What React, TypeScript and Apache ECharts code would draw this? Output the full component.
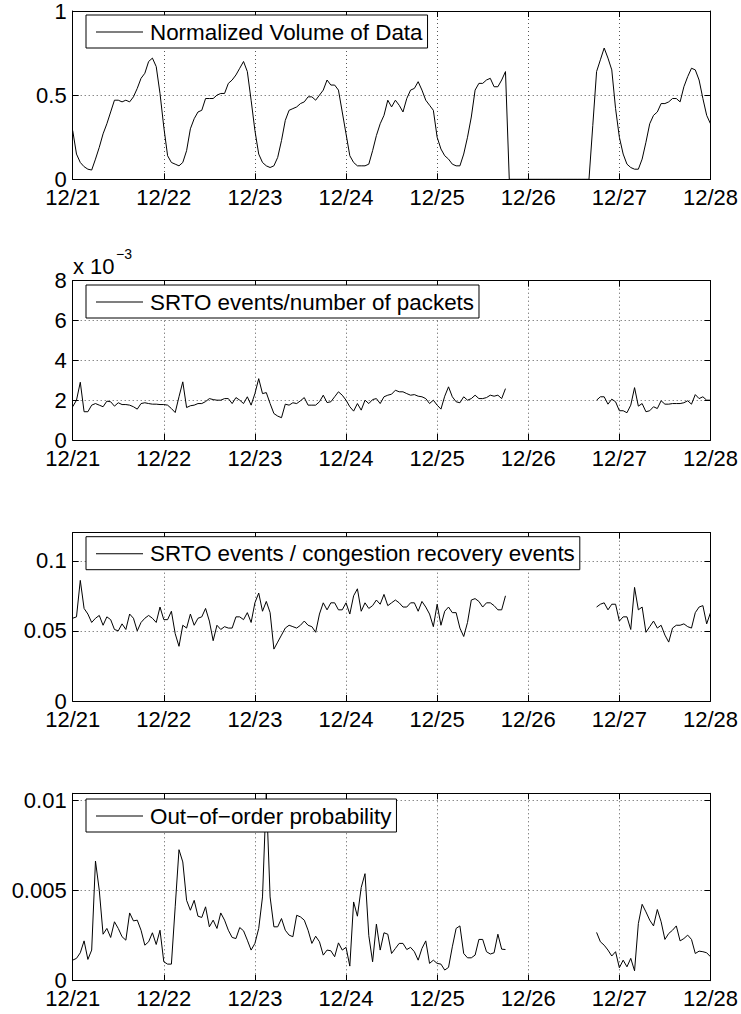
import React, { useEffect, useRef } from 'react';
import * as echarts from 'echarts';

// Hourly samples from 12/21 00:00 (index 0) to 12/28 00:00 (index 168).
const dayLabels = ['12/21', '12/22', '12/23', '12/24', '12/25', '12/26', '12/27', '12/28'];
const HOURS_PER_DAY = 24;
const TOTAL_HOURS = 168;

// Normalized volume of data (0 while the capture was idle).
const volume = [
  0.29, 0.15, 0.10, 0.075, 0.06, 0.055, 0.12, 0.19, 0.27, 0.33,
  0.40, 0.47, 0.47, 0.46, 0.47, 0.46, 0.49, 0.54, 0.60, 0.63,
  0.70, 0.72, 0.67, 0.51, 0.31, 0.14, 0.10, 0.09, 0.08, 0.10,
  0.17, 0.30, 0.36, 0.40, 0.41, 0.48, 0.48, 0.48, 0.50, 0.51,
  0.51, 0.57, 0.59, 0.62, 0.66, 0.70, 0.64, 0.47, 0.29, 0.15,
  0.10, 0.08, 0.07, 0.08, 0.13, 0.23, 0.35, 0.41, 0.42, 0.43,
  0.45, 0.46, 0.49, 0.49, 0.47, 0.50, 0.53, 0.59, 0.56, 0.56,
  0.53, 0.40, 0.27, 0.14, 0.10, 0.08, 0.08, 0.08, 0.09, 0.17,
  0.26, 0.33, 0.38, 0.47, 0.43, 0.47, 0.44, 0.40, 0.48, 0.53,
  0.54, 0.58, 0.53, 0.47, 0.44, 0.41, 0.25, 0.18, 0.14, 0.12,
  0.09, 0.08, 0.08, 0.15, 0.25, 0.37, 0.53, 0.57, 0.57, 0.59,
  0.60, 0.55, 0.55, 0.59, 0.64, 0, 0, 0, 0, 0,
  0, 0, 0, 0, 0, 0, 0, 0, 0, 0,
  0, 0, 0, 0, 0, 0, 0, 0.32, 0.64, 0.71,
  0.78, 0.72, 0.65, 0.42, 0.25, 0.15, 0.09, 0.07, 0.06, 0.06,
  0.12, 0.22, 0.33, 0.38, 0.40, 0.45, 0.45, 0.46, 0.48, 0.48,
  0.46, 0.55, 0.61, 0.66, 0.65, 0.59, 0.48, 0.38, 0.33,
];

// SRTO events per packet, in units of 10^-3.
const srtoPerPacket = [
  1.67, 2.0, 2.9, 1.42, 1.42, 1.75, 1.83, 1.75, 1.67, 1.95,
  1.92, 1.70, 1.87, 1.78, 1.78, 1.75, 1.67, 1.55, 1.83, 1.87,
  1.83, 1.80, 1.80, 1.78, 1.78, 1.75, 1.58, 1.38, 2.17, 2.92,
  1.63, 1.72, 1.75, 1.83, 1.83, 1.93, 2.08, 2.03, 2.0, 2.0,
  2.08, 2.08, 1.83, 2.13, 2.0, 1.83, 2.17, 1.75, 2.33, 3.08,
  2.33, 2.38, 1.83, 1.33, 1.2, 1.12, 1.8, 1.75, 1.87, 1.83,
  1.97, 2.13, 1.75, 1.75, 1.75, 1.92, 2.25, 1.88, 1.92, 2.17,
  2.42, 2.25, 2.0, 1.67, 1.45, 1.83, 1.5, 2.0, 1.83, 2.03,
  2.08, 1.83, 2.17, 2.25, 2.3, 2.5, 2.42, 2.42, 2.33, 2.25,
  2.28, 2.2, 2.17, 2.08, 1.83, 2.0, 1.75, 1.55, 2.2, 2.67,
  2.17, 1.92, 1.87, 2.17, 2.0, 2.08, 2.25, 2.08, 2.08, 2.13,
  2.25, 2.2, 2.25, 2.08, 2.58, null, null, null, null, null,
  null, null, null, null, null, null, null, null, null, null,
  null, null, null, null, null, null, null, null, 2.0, 2.17,
  2.17, 1.8, 2.05, 1.92, 1.47, 1.47, 1.37, 1.75, 2.63, 1.7,
  1.83, 1.42, 1.47, 1.67, 1.58, 1.97, 1.8, 1.8, 1.83, 1.83,
  1.83, 1.87, 1.97, 1.8, 2.28, 2.08, 2.17, 2.0, 2.0,
];

// SRTO events per congestion recovery event.
const srtoPerRecovery = [
  0.059, 0.060, 0.086, 0.066, 0.062, 0.056, 0.059, 0.061, 0.054, 0.060,
  0.058, 0.051, 0.050, 0.055, 0.051, 0.062, 0.059, 0.050, 0.056, 0.059,
  0.061, 0.059, 0.056, 0.067, 0.058, 0.058, 0.064, 0.048, 0.039, 0.054,
  0.052, 0.062, 0.054, 0.059, 0.060, 0.066, 0.057, 0.043, 0.054, 0.051,
  0.053, 0.052, 0.052, 0.060, 0.060, 0.058, 0.063, 0.056, 0.070, 0.077,
  0.064, 0.071, 0.063, 0.037, 0.042, 0.047, 0.052, 0.054, 0.053, 0.052,
  0.054, 0.057, 0.054, 0.053, 0.049, 0.062, 0.070, 0.065, 0.070, 0.070,
  0.065, 0.065, 0.070, 0.062, 0.075, 0.080, 0.064, 0.070, 0.066, 0.068,
  0.072, 0.069, 0.076, 0.068, 0.070, 0.072, 0.070, 0.067, 0.067, 0.070,
  0.070, 0.064, 0.071, 0.067, 0.062, 0.053, 0.069, 0.054, 0.064, 0.067,
  0.063, 0.063, 0.052, 0.046, 0.056, 0.072, 0.073, 0.071, 0.067, 0.070,
  0.070, 0.068, 0.065, 0.065, 0.075, null, null, null, null, null,
  null, null, null, null, null, null, null, null, null, null,
  null, null, null, null, null, null, null, null, 0.067, 0.069,
  0.070, 0.065, 0.069, 0.069, 0.057, 0.060, 0.060, 0.051, 0.081, 0.065,
  0.067, 0.049, 0.053, 0.057, 0.052, 0.054, 0.047, 0.042, 0.052, 0.054,
  0.054, 0.055, 0.053, 0.052, 0.063, 0.067, 0.068, 0.055, 0.063,
];

// Probability of out-of-order delivery.
const outOfOrder = [
  0.00114, 0.00124, 0.00155, 0.00221, 0.00118, 0.00170, 0.00664, 0.00502, 0.00258, 0.00290,
  0.00240, 0.00327, 0.00290, 0.00244, 0.00225, 0.00376, 0.00332, 0.00336, 0.00280, 0.00197,
  0.00216, 0.00266, 0.00201, 0.00280, 0.00105, 0.00092, 0.00092, 0.00410, 0.00727, 0.00659,
  0.00446, 0.00391, 0.00446, 0.00358, 0.00351, 0.00410, 0.00299, 0.00336, 0.00290, 0.00376,
  0.00336, 0.00280, 0.00240, 0.00234, 0.00295, 0.00277, 0.00225, 0.00170, 0.00207, 0.00290,
  0.00465, 0.0104, 0.00465, 0.00299, 0.00299, 0.00345, 0.00280, 0.00253, 0.00244, 0.00363,
  0.00354, 0.00336, 0.00280, 0.00207, 0.00247, 0.00216, 0.00142, 0.00170, 0.00166, 0.00133,
  0.00210, 0.00170, 0.00185, 0.00081, 0.00437, 0.00358, 0.00517, 0.00594, 0.00250, 0.00105,
  0.00314, 0.00170, 0.00266, 0.00258, 0.00151, 0.00179, 0.00207, 0.00207, 0.00173, 0.00185,
  0.00161, 0.00114, 0.00179, 0.00221, 0.00096, 0.00114, 0.00096, 0.00092, 0.00059, 0.00074,
  0.00188, 0.00290, 0.00304, 0.00151, 0.00127, 0.00127, 0.00142, 0.00229, 0.00229, 0.00161,
  0.00148, 0.00155, 0.00258, 0.00175, 0.00173, null, null, null, null, null,
  null, null, null, null, null, null, null, null, null, null,
  null, null, null, null, null, null, null, null, 0.00268, 0.00216,
  0.00197, 0.00170, 0.00137, 0.00161, 0.00072, 0.00114, 0.00077, 0.00124, 0.00055, 0.00317,
  0.00424, 0.00382, 0.00336, 0.00304, 0.00395, 0.00327, 0.00229, 0.00262, 0.00280, 0.00304,
  0.00221, 0.00234, 0.00253, 0.00229, 0.00151, 0.00164, 0.00161, 0.00155, 0.00133,
];

const FONT = '"Liberation Sans", Arial, Helvetica, sans-serif';

const panels = [
  { name: 'Normalized Volume of Data', data: volume, top: 10.7, height: 168.6, max: 1, interval: 0.5, legendTop: 15 },
  { name: 'SRTO events/number of packets', data: srtoPerPacket, top: 280.7, height: 159.3, max: 8, interval: 2, legendTop: 285 },
  { name: 'SRTO events / congestion recovery events', data: srtoPerRecovery, top: 532.7, height: 168.3, max: 0.12, interval: 0.05, legendTop: 536.7 },
  { name: 'Out\u2212of\u2212order probability', data: outOfOrder, top: 793.3, height: 187.4, max: 0.0104, interval: 0.005, legendTop: 799 },
];

const GRID_LEFT = 72.7;
const GRID_WIDTH = 640;

// true when max sits on a tick step, so its label belongs on the axis
const onStep = (max: number, step: number) => Math.abs(max / step - Math.round(max / step)) < 1e-9;

function buildOption() {
  const grid: any[] = [];
  const xAxis: any[] = [];
  const yAxis: any[] = [];
  const series: any[] = [];
  const legend: any[] = [];

  const dotted = { type: [1, 3], color: '#555', width: 1 };
  const tick = { show: true, inside: true, length: 6, lineStyle: { color: '#000', width: 1 } };
  const line = { show: true, onZero: false, lineStyle: { color: '#000', width: 1 } };
  const label = { color: '#000', fontSize: 22, fontFamily: FONT, lineHeight: 16 };

  panels.forEach((p, i) => {
    grid.push({ left: GRID_LEFT, top: p.top, width: GRID_WIDTH, height: p.height, containLabel: false });

    // bottom axis with day labels
    xAxis.push({
      type: 'value', gridIndex: i, position: 'bottom', min: 0, max: TOTAL_HOURS, interval: HOURS_PER_DAY,
      axisLine: line, axisTick: tick,
      axisLabel: { ...label, margin: 10, formatter: (v: number) => dayLabels[Math.round(v / HOURS_PER_DAY)] },
      splitLine: { show: true, lineStyle: dotted },
    });
    // top edge of the box
    xAxis.push({
      type: 'value', gridIndex: i, position: 'top', min: 0, max: TOTAL_HOURS, interval: HOURS_PER_DAY,
      axisLine: line, axisTick: tick, axisLabel: { show: false }, splitLine: { show: false },
    });
    // left axis with values
    yAxis.push({
      type: 'value', gridIndex: i, position: 'left', min: 0, max: p.max, interval: p.interval,
      axisLine: line, axisTick: tick,
      axisLabel: { ...label, margin: 6, showMaxLabel: onStep(p.max, p.interval) },
      splitLine: { show: true, lineStyle: dotted },
    });
    // right edge of the box
    yAxis.push({
      type: 'value', gridIndex: i, position: 'right', min: 0, max: p.max, interval: p.interval,
      axisLine: line, axisTick: tick, axisLabel: { show: false }, splitLine: { show: false },
    });

    series.push({
      type: 'line', name: p.name, xAxisIndex: 2 * i, yAxisIndex: 2 * i,
      data: p.data.map((v, h) => [h, v == null ? '-' : v]),
      symbol: 'none', showSymbol: false, connectNulls: false, clip: true,
      lineStyle: { color: '#000', width: 1 }, itemStyle: { color: '#000' },
    });

    legend.push({
      data: [p.name], left: 86, top: p.legendTop, orient: 'horizontal', selectedMode: false,
      backgroundColor: '#fff', borderColor: '#000', borderWidth: 1, borderRadius: 0,
      padding: [6, 5, 5, 10], icon: 'rect', itemWidth: 47, itemHeight: 1,
      itemStyle: { color: '#000', borderWidth: 0 },
      textStyle: { color: '#000', fontSize: 22.4, fontFamily: FONT, padding: [0, 0, 0, 2] },
    });
  });

  return {
    animation: false,
    backgroundColor: '#fff',
    textStyle: { fontFamily: FONT },
    grid, xAxis, yAxis, series, legend,
    graphic: [
      { type: 'text', left: 73, top: 255, style: { text: 'x 10', fontSize: 22, fontFamily: FONT, fill: '#000' } },
      { type: 'text', left: 116, top: 247, style: { text: '\u22123', fontSize: 14, fontFamily: FONT, fill: '#000' } },
    ],
  };
}

export default function App() {
  const ref = useRef<HTMLDivElement>(null);
  useEffect(() => {
    if (!ref.current) return;
    const chart = echarts.init(ref.current, undefined, { renderer: 'svg' });
    chart.setOption(buildOption() as any);
    return () => chart.dispose();
  }, []);
  return <div ref={ref} style={{ position: 'absolute', left: 0, top: 0, width: 741, height: 1014, background: '#fff' }} />;
}
